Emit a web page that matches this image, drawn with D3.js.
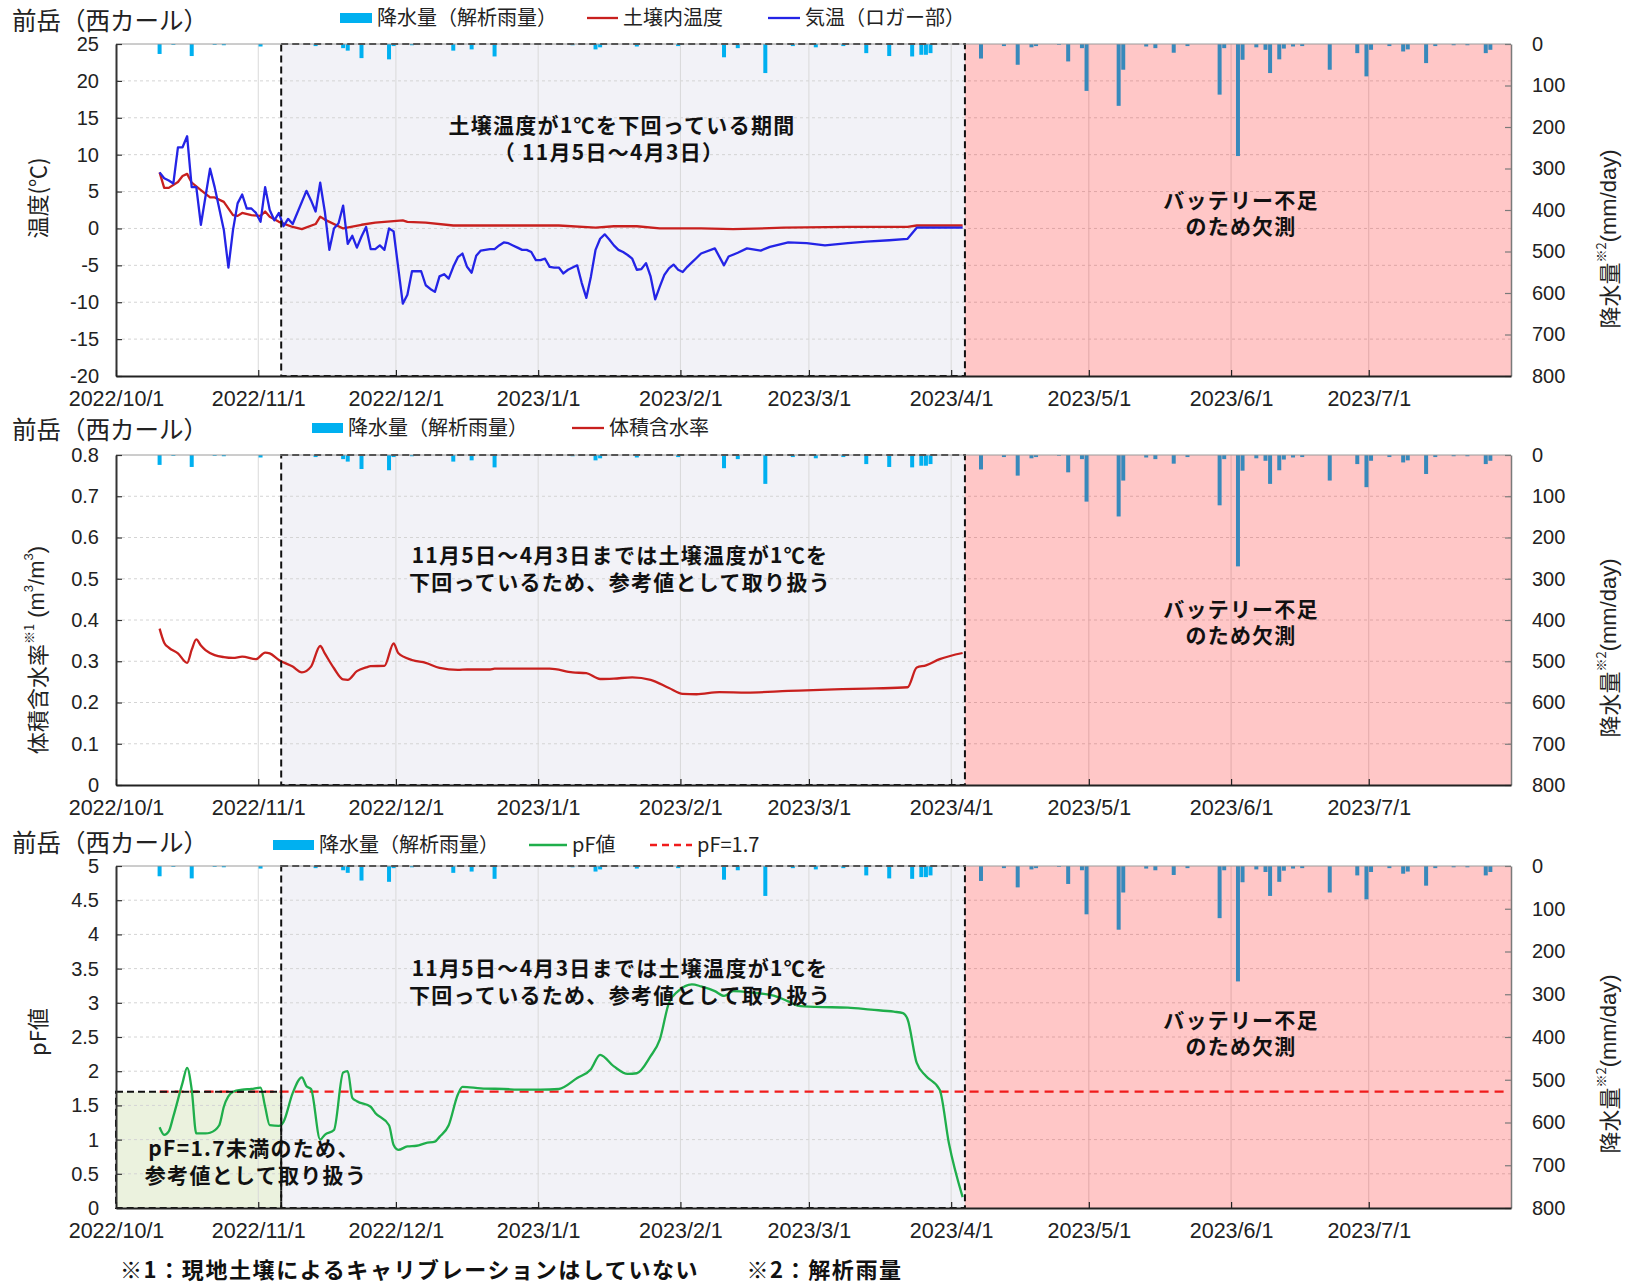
<!doctype html>
<html>
<head>
<meta charset="utf-8"/>
<title>前岳（西カール）</title>
<script src="https://cdnjs.cloudflare.com/ajax/libs/d3/7.8.5/d3.min.js"></script>
<style>
  body { margin: 0; background: #fff; }
</style>
</head>
<body>
<svg id="chart" width="1632" height="1283"></svg>
<script>
// ---- data ----
const xDomain = ["2022/10/1", "2023/8/1"];
const monthTicks = ["2022/10/1", "2022/11/1", "2022/12/1", "2023/1/1", "2023/2/1",
  "2023/3/1", "2023/4/1", "2023/5/1", "2023/6/1", "2023/7/1"];
const frozenPeriod = ["2022/11/6", "2023/4/4"];
const missingPeriod = ["2023/4/4", "2023/8/1"];

const tempTicks = [25, 20, 15, 10, 5, 0, -5, -10, -15, -20];
const vwcTicks = [0.8, 0.7, 0.6, 0.5, 0.4, 0.3, 0.2, 0.1, 0];
const pfTicks = [5, 4.5, 4, 3.5, 3, 2.5, 2, 1.5, 1, 0.5, 0];
const rainTicks = [0, 100, 200, 300, 400, 500, 600, 700, 800];

// daily rainfall (mm/day)
const rainfall = [
  ["2022/10/10", 24], ["2022/10/13", 2], ["2022/10/17", 29], ["2022/10/22", 2], ["2022/10/24", 3],
  ["2022/11/1", 6], ["2022/11/13", 5], ["2022/11/19", 10], ["2022/11/20", 16], ["2022/11/23", 34],
  ["2022/11/29", 37], ["2022/11/30", 5], ["2022/12/4", 3], ["2022/12/13", 16], ["2022/12/17", 13],
  ["2022/12/22", 30], ["2023/1/8", 3], ["2023/1/13", 13], ["2023/1/14", 8], ["2023/1/22", 6],
  ["2023/1/31", 5], ["2023/2/10", 32], ["2023/2/13", 10], ["2023/2/19", 70], ["2023/2/25", 5],
  ["2023/3/2", 8], ["2023/3/8", 5], ["2023/3/13", 22], ["2023/3/18", 29], ["2023/3/23", 30],
  ["2023/3/25", 26], ["2023/3/26", 26], ["2023/3/27", 22],
  ["2023/4/7", 35], ["2023/4/12", 5], ["2023/4/15", 50], ["2023/4/18", 8], ["2023/4/19", 5],
  ["2023/4/24", 2], ["2023/4/26", 42], ["2023/4/29", 10], ["2023/4/30", 113], ["2023/5/7", 149],
  ["2023/5/8", 62], ["2023/5/13", 6], ["2023/5/15", 10], ["2023/5/19", 21], ["2023/5/22", 5],
  ["2023/5/29", 122], ["2023/5/30", 10], ["2023/6/2", 270], ["2023/6/3", 38], ["2023/6/6", 8],
  ["2023/6/8", 14], ["2023/6/9", 70], ["2023/6/11", 37], ["2023/6/12", 11], ["2023/6/14", 6],
  ["2023/6/16", 5], ["2023/6/22", 62], ["2023/6/28", 22], ["2023/6/30", 78], ["2023/7/1", 14],
  ["2023/7/5", 5], ["2023/7/8", 18], ["2023/7/9", 13], ["2023/7/13", 46], ["2023/7/15", 5],
  ["2023/7/19", 3], ["2023/7/22", 3], ["2023/7/26", 22], ["2023/7/27", 14]
];

// air temperature at logger (°C)
const airTemp = [
  ["2022/10/10", 7.6], ["2022/10/11", 6.8], ["2022/10/12", 6.5], ["2022/10/13", 6.1], ["2022/10/14", 11.0],
  ["2022/10/15", 11.0], ["2022/10/16", 12.5], ["2022/10/17", 5.6], ["2022/10/18", 5.6], ["2022/10/19", 0.5],
  ["2022/10/21", 8.1], ["2022/10/22", 5.6], ["2022/10/24", -0.2], ["2022/10/25", -5.3], ["2022/10/26", -0.2],
  ["2022/10/27", 3.4], ["2022/10/28", 4.6], ["2022/10/29", 2.7], ["2022/10/30", 2.7], ["2022/10/31", 2.1],
  ["2022/11/1", 0.9], ["2022/11/2", 5.6], ["2022/11/3", 2.5], ["2022/11/4", 1.1], ["2022/11/5", 2.1],
  ["2022/11/6", 0.3], ["2022/11/7", 1.3], ["2022/11/8", 0.6], ["2022/11/11", 5.1], ["2022/11/12", 3.8],
  ["2022/11/13", 2.3], ["2022/11/14", 6.2], ["2022/11/15", 2.3], ["2022/11/16", -2.9], ["2022/11/17", 0.0],
  ["2022/11/18", 0.7], ["2022/11/19", 3.1], ["2022/11/20", -2.1], ["2022/11/21", -1.0], ["2022/11/22", -2.6],
  ["2022/11/23", -1.1], ["2022/11/24", 0.2], ["2022/11/25", -2.8], ["2022/11/26", -2.8], ["2022/11/27", -2.3],
  ["2022/11/28", -2.9], ["2022/11/29", 0.0], ["2022/11/30", -0.4], ["2022/12/2", -10.2], ["2022/12/3", -9.0],
  ["2022/12/4", -5.8], ["2022/12/5", -5.8], ["2022/12/6", -5.8], ["2022/12/7", -7.7], ["2022/12/8", -8.2],
  ["2022/12/9", -8.6], ["2022/12/10", -6.5], ["2022/12/11", -6.2], ["2022/12/12", -6.8], ["2022/12/13", -5.2],
  ["2022/12/14", -3.9], ["2022/12/15", -3.4], ["2022/12/16", -5.2], ["2022/12/17", -6.0], ["2022/12/18", -3.7],
  ["2022/12/19", -3.0], ["2022/12/20", -2.9], ["2022/12/21", -2.8], ["2022/12/22", -2.8], ["2022/12/23", -2.3],
  ["2022/12/24", -1.9], ["2022/12/25", -2.0], ["2022/12/26", -2.3], ["2022/12/27", -2.6], ["2022/12/28", -2.9],
  ["2022/12/29", -2.9], ["2022/12/30", -3.2], ["2022/12/31", -4.3], ["2023/1/1", -4.3], ["2023/1/2", -4.1],
  ["2023/1/3", -5.2], ["2023/1/4", -5.3], ["2023/1/5", -5.3], ["2023/1/6", -6.1], ["2023/1/7", -5.6],
  ["2023/1/8", -5.3], ["2023/1/9", -5.0], ["2023/1/10", -7.4], ["2023/1/11", -9.4], ["2023/1/12", -6.5],
  ["2023/1/13", -2.9], ["2023/1/14", -1.4], ["2023/1/15", -0.8], ["2023/1/16", -1.5], ["2023/1/17", -2.3],
  ["2023/1/18", -2.9], ["2023/1/19", -3.2], ["2023/1/20", -3.6], ["2023/1/21", -4.1], ["2023/1/22", -5.6],
  ["2023/1/23", -5.5], ["2023/1/24", -4.7], ["2023/1/25", -6.5], ["2023/1/26", -9.6], ["2023/1/27", -7.9],
  ["2023/1/28", -6.3], ["2023/1/29", -5.4], ["2023/1/30", -4.9], ["2023/1/31", -5.6], ["2023/2/1", -5.9],
  ["2023/2/2", -5.2], ["2023/2/3", -4.6], ["2023/2/4", -4.0], ["2023/2/5", -3.4], ["2023/2/8", -2.7],
  ["2023/2/10", -5.0], ["2023/2/11", -3.8], ["2023/2/13", -3.3], ["2023/2/15", -2.7], ["2023/2/18", -3.0],
  ["2023/2/20", -2.5], ["2023/2/24", -1.9], ["2023/2/28", -2.0], ["2023/3/4", -2.3], ["2023/3/9", -2.0],
  ["2023/3/13", -1.8], ["2023/3/18", -1.6], ["2023/3/22", -1.4], ["2023/3/24", 0.1], ["2023/4/3", 0.1]
];

// soil temperature (°C)
const soilTemp = [
  ["2022/10/10", 7.6], ["2022/10/11", 5.5], ["2022/10/12", 5.5], ["2022/10/14", 6.3], ["2022/10/15", 7.1],
  ["2022/10/16", 7.4], ["2022/10/17", 6.2], ["2022/10/19", 5.2], ["2022/10/21", 4.2], ["2022/10/22", 4.2],
  ["2022/10/24", 3.6], ["2022/10/26", 1.8], ["2022/10/27", 1.7], ["2022/10/28", 2.1], ["2022/10/30", 1.8],
  ["2022/11/1", 1.7], ["2022/11/2", 2.3], ["2022/11/3", 1.6], ["2022/11/5", 0.9], ["2022/11/8", 0.2],
  ["2022/11/10", -0.1], ["2022/11/13", 0.6], ["2022/11/14", 1.6], ["2022/11/15", 1.2], ["2022/11/19", 0.0],
  ["2022/11/23", 0.5], ["2022/11/26", 0.8], ["2022/11/30", 1.0], ["2022/12/2", 1.1], ["2022/12/3", 0.9],
  ["2022/12/7", 0.8], ["2022/12/13", 0.4], ["2022/12/19", 0.4], ["2022/12/28", 0.4], ["2023/1/5", 0.4],
  ["2023/1/13", 0.1], ["2023/1/17", 0.3], ["2023/1/22", 0.3], ["2023/1/27", 0.0], ["2023/2/5", 0.0],
  ["2023/2/12", -0.1], ["2023/2/23", 0.1], ["2023/3/9", 0.2], ["2023/3/22", 0.2], ["2023/3/24", 0.4],
  ["2023/4/3", 0.4]
];

// volumetric water content (m3/m3)
const vwc = [
  ["2022/10/10", 0.379], ["2022/10/11", 0.345], ["2022/10/12", 0.333], ["2022/10/14", 0.319], ["2022/10/16", 0.296],
  ["2022/10/17", 0.328], ["2022/10/18", 0.353], ["2022/10/19", 0.338], ["2022/10/20", 0.327], ["2022/10/22", 0.315],
  ["2022/10/24", 0.310], ["2022/10/26", 0.308], ["2022/10/28", 0.311], ["2022/10/31", 0.305], ["2022/11/2", 0.321],
  ["2022/11/3", 0.319], ["2022/11/5", 0.303], ["2022/11/8", 0.287], ["2022/11/10", 0.273], ["2022/11/12", 0.287],
  ["2022/11/14", 0.337], ["2022/11/15", 0.319], ["2022/11/17", 0.283], ["2022/11/19", 0.256], ["2022/11/20", 0.255],
  ["2022/11/22", 0.276], ["2022/11/24", 0.285], ["2022/11/25", 0.288], ["2022/11/28", 0.289], ["2022/11/30", 0.343],
  ["2022/12/1", 0.320], ["2022/12/4", 0.303], ["2022/12/7", 0.296], ["2022/12/10", 0.284], ["2022/12/14", 0.279],
  ["2022/12/16", 0.280], ["2022/12/21", 0.280], ["2022/12/22", 0.282], ["2022/12/28", 0.282], ["2023/1/3", 0.282],
  ["2023/1/8", 0.273], ["2023/1/11", 0.271], ["2023/1/14", 0.257], ["2023/1/17", 0.258], ["2023/1/21", 0.261],
  ["2023/1/25", 0.255], ["2023/1/29", 0.235], ["2023/2/1", 0.221], ["2023/2/4", 0.220], ["2023/2/9", 0.225],
  ["2023/2/15", 0.224], ["2023/2/24", 0.228], ["2023/3/6", 0.232], ["2023/3/15", 0.234], ["2023/3/22", 0.237],
  ["2023/3/24", 0.285], ["2023/3/26", 0.290], ["2023/3/29", 0.305], ["2023/4/3", 0.320]
];

// pF value
const pfValue = [
  ["2022/10/10", 1.18], ["2022/10/11", 1.07], ["2022/10/12", 1.12], ["2022/10/13", 1.34], ["2022/10/15", 1.83],
  ["2022/10/16", 2.05], ["2022/10/17", 1.73], ["2022/10/18", 1.09], ["2022/10/20", 1.09], ["2022/10/21", 1.10],
  ["2022/10/23", 1.21], ["2022/10/24", 1.48], ["2022/10/26", 1.70], ["2022/10/28", 1.73], ["2022/10/30", 1.74],
  ["2022/11/1", 1.76], ["2022/11/2", 1.48], ["2022/11/3", 1.21], ["2022/11/5", 1.20], ["2022/11/6", 1.26],
  ["2022/11/8", 1.68], ["2022/11/10", 1.91], ["2022/11/11", 1.78], ["2022/11/12", 1.74], ["2022/11/14", 1.00],
  ["2022/11/15", 1.07], ["2022/11/17", 1.14], ["2022/11/19", 1.98], ["2022/11/20", 2.00], ["2022/11/21", 1.61],
  ["2022/11/22", 1.56], ["2022/11/25", 1.48], ["2022/11/26", 1.39], ["2022/11/29", 1.21], ["2022/11/30", 0.92],
  ["2022/12/1", 0.85], ["2022/12/3", 0.90], ["2022/12/5", 0.91], ["2022/12/7", 0.95], ["2022/12/9", 0.97],
  ["2022/12/10", 1.04], ["2022/12/12", 1.21], ["2022/12/14", 1.66], ["2022/12/15", 1.77], ["2022/12/19", 1.75],
  ["2022/12/24", 1.74], ["2022/12/28", 1.73], ["2023/1/1", 1.73], ["2023/1/5", 1.74], ["2023/1/9", 1.90],
  ["2023/1/12", 2.03], ["2023/1/14", 2.24], ["2023/1/17", 2.07], ["2023/1/20", 1.96], ["2023/1/22", 1.97],
  ["2023/1/25", 2.22], ["2023/1/27", 2.46], ["2023/1/29", 3.00], ["2023/1/31", 3.17], ["2023/2/3", 3.27],
  ["2023/2/5", 3.24], ["2023/2/8", 3.17], ["2023/2/10", 3.10], ["2023/2/12", 3.17], ["2023/2/16", 3.15],
  ["2023/2/21", 3.10], ["2023/2/24", 3.02], ["2023/2/26", 2.96], ["2023/3/2", 2.94], ["2023/3/9", 2.93],
  ["2023/3/14", 2.90], ["2023/3/19", 2.87], ["2023/3/21", 2.85], ["2023/3/22", 2.76], ["2023/3/24", 2.12],
  ["2023/3/26", 1.93], ["2023/3/29", 1.73], ["2023/3/31", 0.95], ["2023/4/3", 0.16]
];
const pfThreshold = [["2022/10/10", 1.7], ["2023/7/31", 1.7]];

// ---- drawing ----
const JP = "'Noto Sans CJK JP', 'Noto Sans', sans-serif";
const NUM = "'Liberation Sans', Arial, sans-serif";
const left = 116, right = 1511;
const svg = d3.select("#chart");
const parse = d3.timeParse("%Y/%m/%d");
const x = d3.scaleTime().domain(xDomain.map(parse)).range([left, right]);
const dayW = x(parse("2022/10/2")) - x(parse("2022/10/1"));
const xc = s => x(parse(s)) + dayW / 2;

function label(g, px, py, txt, opts = {}) {
  return g.append("text").attr("x", px).attr("y", py)
    .attr("font-family", opts.family || JP).attr("font-size", opts.size || 20)
    .attr("font-weight", opts.weight || "normal")
    .attr("letter-spacing", opts.spacing || 0)
    .attr("text-anchor", opts.anchor || "start")
    .attr("fill", opts.fill || "#222").text(txt);
}

function drawPanel(p) {
  const g = svg.append("g");
  const y = d3.scaleLinear().domain(p.domain).range([p.bottom, p.top]);
  const yr = d3.scaleLinear().domain([0, 800]).range([p.top, p.bottom]);
  const f0 = x(parse(frozenPeriod[0])), f1 = x(parse(frozenPeriod[1]));
  const m0 = x(parse(missingPeriod[0])), m1 = x(parse(missingPeriod[1]));

  g.append("rect").attr("x", f0).attr("y", p.top).attr("width", f1 - f0)
    .attr("height", p.bottom - p.top).attr("fill", "#f2f2f7");
  if (p.greenBox) {
    g.append("rect").attr("x", left).attr("y", y(p.greenBox)).attr("width", f0 - left)
      .attr("height", p.bottom - y(p.greenBox)).attr("fill", "#ebf2de");
  }

  // gridlines
  g.append("g").selectAll("line")
    .data(p.ticks.filter(t => t !== p.domain[0] && t !== p.domain[1]))
    .join("line").attr("x1", left).attr("x2", right).attr("y1", d => y(d)).attr("y2", d => y(d))
    .attr("stroke", "#d4d4d4").attr("stroke-dasharray", "3,3");
  g.append("g").selectAll("line").data(monthTicks.slice(1)).join("line")
    .attr("x1", d => x(parse(d))).attr("x2", d => x(parse(d)))
    .attr("y1", p.top).attr("y2", p.bottom).attr("stroke", "#d9d9d9");

  // rainfall bars hanging from top
  g.append("g").selectAll("rect").data(rainfall).join("rect")
    .attr("x", d => x(parse(d[0])) + 0.3).attr("width", dayW - 0.6)
    .attr("y", p.top).attr("height", d => yr(d[1]) - p.top)
    .attr("fill", "#00b0f0");

  // missing data overlay
  g.append("rect").attr("x", m0).attr("y", p.top).attr("width", m1 - m0)
    .attr("height", p.bottom - p.top).attr("fill", "#ff0000").attr("fill-opacity", 0.22);

  // series
  p.series.forEach(s => {
    g.append("path").datum(s.data)
      .attr("d", d3.line().x(d => xc(d[0])).y(d => y(d[1])).curve(s.curve || d3.curveLinear))
      .attr("fill", "none").attr("stroke", s.color).attr("stroke-width", 2.3)
      .attr("stroke-dasharray", s.dash || null).attr("stroke-linejoin", "round");
  });

  // dashed boxes
  g.append("rect").attr("x", f0).attr("y", p.top).attr("width", f1 - f0)
    .attr("height", p.bottom - p.top).attr("fill", "none")
    .attr("stroke", "#111").attr("stroke-width", 2).attr("stroke-dasharray", "7,4");
  if (p.greenBox) {
    g.append("rect").attr("x", left).attr("y", y(p.greenBox)).attr("width", f0 - left)
      .attr("height", p.bottom - y(p.greenBox)).attr("fill", "none")
      .attr("stroke", "#111").attr("stroke-width", 2).attr("stroke-dasharray", "7,4");
  }

  // top border
  g.append("line").attr("x1", left).attr("x2", right).attr("y1", p.top).attr("y2", p.top)
    .attr("stroke", "#9a9a9a");

  // axes
  const styleAxis = (a, col, w, size) => {
    a.select(".domain").attr("stroke", col).attr("stroke-width", w);
    a.selectAll(".tick line").attr("stroke", col).attr("stroke-width", 1.2);
    a.selectAll("text").attr("font-family", NUM).attr("font-size", size).attr("fill", "#222");
  };
  g.append("g").attr("transform", `translate(${right},0)`)
    .call(d3.axisRight(yr).tickValues(rainTicks).tickSizeInner(-6).tickSizeOuter(0)
      .tickPadding(21).tickFormat(d => String(d)))
    .call(a => styleAxis(a, "#7a7a7a", 1.5, 20));
  g.append("g").attr("transform", `translate(${left},0)`)
    .call(d3.axisLeft(y).tickValues(p.ticks).tickSizeInner(-6).tickSizeOuter(0)
      .tickPadding(17).tickFormat(d => String(d)))
    .call(a => styleAxis(a, "#333", 2, 20));
  g.append("g").attr("transform", `translate(0,${p.bottom})`)
    .call(d3.axisBottom(x).tickValues(monthTicks.map(parse)).tickSizeInner(-6).tickSizeOuter(0)
      .tickPadding(15).tickFormat(d3.timeFormat("%Y/%-m/%-d")))
    .call(a => styleAxis(a, "#222", 2, 21.5));

  // panel title and legend
  label(g, 12, p.titleY, "前岳（西カール）", { size: 24.5 });
  const ly = p.legendY;
  p.legend.forEach(l => {
    if (l.type === "rect") {
      g.append("rect").attr("x", l.x).attr("y", ly - 5).attr("width", l.w).attr("height", 10).attr("fill", "#00b0f0");
    } else {
      g.append("line").attr("x1", l.x).attr("x2", l.x + l.w).attr("y1", ly).attr("y2", ly)
        .attr("stroke", l.color).attr("stroke-width", 2.3).attr("stroke-dasharray", l.dash || null);
    }
    label(g, l.x + l.w + 5, ly + 7, l.text, { size: 20 });
  });

  // axis titles
  const lt = g.append("text").attr("transform", `translate(36,${p.leftTitleY}) rotate(-90)`)
    .attr("text-anchor", "middle").attr("dominant-baseline", "central")
    .attr("font-family", JP).attr("font-size", 22).attr("fill", "#222");
  p.leftTitle.forEach(t => {
    lt.append("tspan").attr("font-size", t.sup ? 13 : 22).attr("dy", t.sup ? -8 : (t.after ? 8 : 0))
      .attr("font-family", t.num ? NUM : JP).text(t.s);
  });
  const rt = g.append("text").attr("transform", `translate(1608,${p.rightTitleY}) rotate(-90)`)
    .attr("text-anchor", "middle").attr("dominant-baseline", "central")
    .attr("font-family", JP).attr("font-size", 22).attr("fill", "#222");
  rt.append("tspan").text("降水量");
  rt.append("tspan").attr("font-size", 13).attr("dy", -8).text("※2");
  rt.append("tspan").attr("dy", 8).attr("font-family", NUM).text("(mm/day)");

  // annotations
  p.notes.forEach(n => label(g, n.x, n.y, n.s, { size: 21, weight: "bold", anchor: "middle", spacing: 1.3, fill: "#111" }));
  [["バッテリー不足", 0], ["のため欠測", 26]].forEach(([s, dy]) =>
    label(g, 1241, p.batteryY + dy, s, { size: 21, weight: "bold", anchor: "middle", spacing: 1.2, fill: "#111" }));
}

drawPanel({
  top: 44, bottom: 376, domain: [-20, 25], ticks: tempTicks,
  titleY: 30, legendY: 18,
  legend: [
    { type: "rect", x: 340, w: 32, text: "降水量（解析雨量）" },
    { type: "line", x: 587, w: 31, color: "#c8201e", text: "土壌内温度" },
    { type: "line", x: 768, w: 32, color: "#2424e6", text: "気温（ロガー部）" }
  ],
  series: [
    { data: soilTemp, color: "#c8201e" },
    { data: airTemp, color: "#2424e6" }
  ],
  leftTitleY: 198, leftTitle: [{ s: "温度(℃)" }],
  rightTitleY: 239,
  notes: [
    { x: 622, y: 133, s: "土壌温度が1℃を下回っている期間" },
    { x: 609, y: 160, s: "（ 11月5日～4月3日）" }
  ],
  batteryY: 208
});

drawPanel({
  top: 455, bottom: 785, domain: [0, 0.8], ticks: vwcTicks,
  titleY: 439, legendY: 428,
  legend: [
    { type: "rect", x: 312, w: 31, text: "降水量（解析雨量）" },
    { type: "line", x: 572, w: 32, color: "#c8201e", text: "体積含水率" }
  ],
  series: [{ data: vwc, color: "#c8201e", curve: d3.curveMonotoneX }],
  leftTitleY: 650,
  leftTitle: [{ s: "体積含水率" }, { s: "※1", sup: true }, { s: " (m", after: true, num: true },
    { s: "3", sup: true, num: true }, { s: "/m", after: true, num: true }, { s: "3", sup: true, num: true },
    { s: ")", after: true, num: true }],
  rightTitleY: 648,
  notes: [
    { x: 620, y: 563, s: "11月5日～4月3日までは土壌温度が1℃を" },
    { x: 620, y: 590, s: "下回っているため、参考値として取り扱う" }
  ],
  batteryY: 617
});

drawPanel({
  top: 866, bottom: 1208, domain: [0, 5], ticks: pfTicks, greenBox: 1.7,
  titleY: 852, legendY: 845,
  legend: [
    { type: "rect", x: 273, w: 41, text: "降水量（解析雨量）" },
    { type: "line", x: 529, w: 38, color: "#1fae4b", text: "pF値" },
    { type: "line", x: 650, w: 42, color: "#f01c1c", dash: "7,5", text: "pF=1.7" }
  ],
  series: [
    { data: pfThreshold, color: "#f01c1c", dash: "9,6" },
    { data: pfValue, color: "#1fae4b", curve: d3.curveMonotoneX }
  ],
  leftTitleY: 1032, leftTitle: [{ s: "pF値" }],
  rightTitleY: 1064,
  notes: [
    { x: 620, y: 976, s: "11月5日～4月3日までは土壌温度が1℃を" },
    { x: 620, y: 1003, s: "下回っているため、参考値として取り扱う" },
    { x: 254, y: 1156, s: "pF=1.7未満のため、" },
    { x: 256, y: 1183, s: "参考値として取り扱う" }
  ],
  batteryY: 1028
});

label(svg, 120, 1278, "※1：現地土壌によるキャリブレーションはしていない　　※2：解析雨量",
  { size: 22, weight: "bold", spacing: 1.6, fill: "#111" });
</script>
</body>
</html>
